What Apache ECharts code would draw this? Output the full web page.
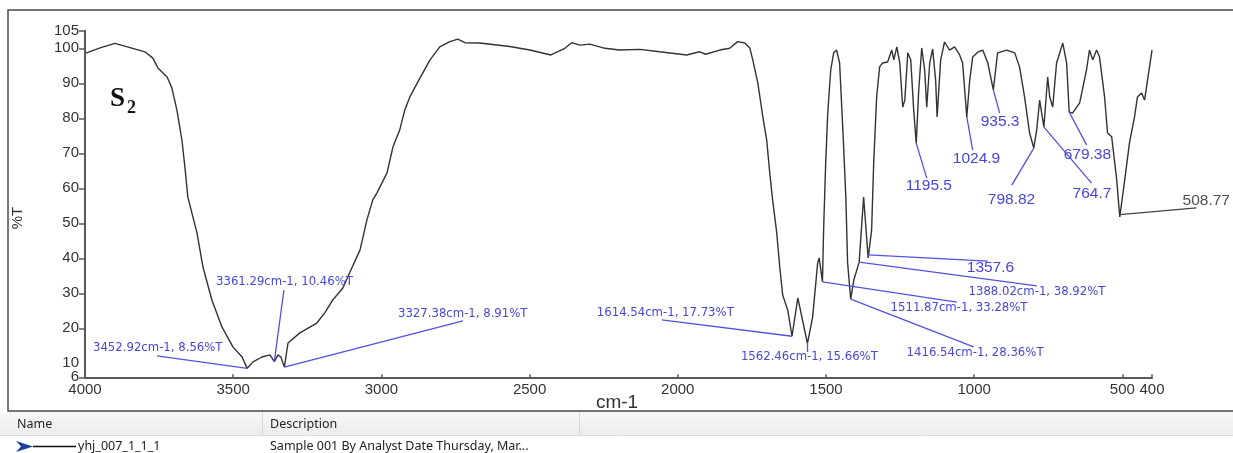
<!DOCTYPE html>
<html><head><meta charset="utf-8">
<script src="https://cdn.jsdelivr.net/npm/echarts@6/dist/echarts.min.js"></script>
<style>html,body{margin:0;padding:0;background:#fff;}#c{width:1233px;height:453px;}</style>
</head><body><div id="c"></div>
<script>
// ---- spectrum data (wavenumber cm-1, %T) ----
var wavenumbers = [3997,3949,3899,3848,3798,3771,3754,3723,3707,3690,3673,3663,3653,3622,3602,3572,3538,3501,3470,3452.92,3433,3403,3376,3361.29,3349,3339,3327.38,3315,3275,3218,3191,3164,3130,3106,3072,3049,3029,3015,2981,2961,2938,2921,2904,2870,2836,2803,2769,2742,2718,2668,2567,2499,2428,2381,2358,2330,2297,2246,2196,2128,2061,1970,1926,1906,1858,1825,1798,1774,1757,1747,1730,1713,1700,1690,1680,1666,1656,1646,1629,1614.54,1595,1562.46,1545,1528,1523,1511.87,1508,1501,1494,1484,1474,1464,1454,1443,1433,1427,1416.54,1406,1388.02,1373,1357.6,1346,1339,1329,1319,1309,1292,1278,1271,1261,1251,1241,1234,1224,1214,1204,1195.5,1187,1177,1167,1160,1150,1140,1130,1125,1113,1100,1083,1066,1049,1039,1024.9,1015,1005,988,971,954,935.3,921,890,863,847,830,813,798.82,789,779,764.7,752,745,735,722,701,688,679.38,668,644,621,611,600,587,577,560,550,536,519,508.77,492,476,459,449,435,425,415,400];
var transmittance = [98.6,100.1,101.4,100.2,99.0,97.2,94.4,91.8,88.7,82.4,73.8,66.1,57.5,47.2,37.5,28.1,20.4,14.7,11.8,8.56,10.4,11.8,12.4,10.46,12.4,11.8,8.91,15.8,18.7,21.5,24.4,28.1,31.5,36.1,42.4,50.9,56.7,58.7,64.4,71.8,76.7,82.4,86.1,91.5,96.7,100.4,101.9,102.6,101.6,101.5,100.5,99.5,98.1,100,101.6,100.9,101.2,100,99.5,99.7,99.0,98.1,99.0,98.3,99.5,100,101.9,101.5,100.1,96.7,90.1,80.4,73.8,64.7,56.7,47.2,37.5,29.5,25.2,17.73,28.7,15.66,23.2,38.7,40.1,33.28,48.1,67.2,81.5,93.8,98.7,99.5,95.8,76.7,57.5,38.7,28.36,33.8,38.92,57.5,40.1,48.1,67.2,86.1,94.7,95.8,96.1,99.5,96.7,100.4,95.8,83.2,85.2,98.7,96.7,82.4,72.9,88.1,100.1,93.8,83.2,95.8,99.8,90.9,80.4,96.7,101.8,99.5,100.4,98.1,95.8,80.4,90.9,97.5,98.9,99.5,95.8,88.1,98.7,99.5,98.7,94.7,86.1,75.8,71.5,76.7,85.2,77.5,91.8,86.1,83.2,95.8,101.5,95.8,81.8,81.5,84.4,93.8,99.5,96.7,99.5,97.5,86.1,75.8,74.7,62.4,51.8,62.4,73,80.4,86.1,87.2,85.2,90.9,99.5];

// ---- axis ticks ----
var xTicks = [4000,3500,3000,2500,2000,1500,1000,500,400];
var yTicks = [6,10,20,30,40,50,60,70,80,90,100,105];
var yTicksCrowded = [10];   // label drawn on a helper axis so it is not hidden next to "6"

// ---- peak annotations (data coordinates) ----
var peakTexts = ['3452.92cm-1, 8.56%T','3361.29cm-1, 10.46%T','3327.38cm-1, 8.91%T','1614.54cm-1, 17.73%T','1562.46cm-1, 15.66%T','1511.87cm-1, 33.28%T','1416.54cm-1, 28.36%T','1388.02cm-1, 38.92%T','1357.6','1195.5','1024.9','935.3','798.82','764.7','679.38','508.77'];
var peakKinds = ['s','s','s','s','s','s','s','s','b','b','b','b','b','b','b','g'];
var peakPoints = [[3452.92,8.56],[3361.29,10.46],[3327.38,8.91],[1614.54,17.73],[1562.46,15.66],[1511.87,33.28],[1416.54,28.36],[1388.02,38.92],[1357.6,41],[1195.5,72.9],[1024.9,80.4],[935.3,88.1],[798.82,71.5],[764.7,77.5],[679.38,81.8],[508.77,52.5]];
var leaderEnds = [[3757,12.1],[3329,30.9],[2725,22.1],[2054,22.4],[1562,13.2],[1059,27.5],[1002,14.7],[789,32.1],[954,39.2],[1160,62.9],[1005,70.9],[914,81.5],[873,60.9],[604,61.5],[621,72.4],[250,54.4]];
var labelAnchors = [[3973,14.4],[3558,33.2],[2944,24.1],[2273,24.4],[1787,11.8],[1282,25.8],[1228,12.9],[1019,30.4],[1025,37.2],[1231,60.7],[1072,68.4],[978,78.9],[954,56.7],[668,58.4],[698,69.5],[297,56.4]];

var lineData = wavenumbers.map(function(w,i){return [w, transmittance[i]];});
var annData = peakPoints.map(function(p,i){
  return [p[0],p[1],leaderEnds[i][0],leaderEnds[i][1],labelAnchors[i][0],labelAnchors[i][1]];
});
function plain(v){ return String(v); }

var chart = echarts.init(document.getElementById('c'), null, {renderer:'canvas'});
var blue = '#4646dc';
var labelStyle = {fontFamily:'Liberation Sans', fontSize:15, color:'#333'};
var option = {
  animation:false,
  backgroundColor:'#fff',
  grid:{left:85, right:81, top:30.8, bottom:75.7, containLabel:false},
  xAxis:{type:'value', min:400, max:4000, inverse:true,
    axisLine:{show:true, lineStyle:{color:'#5a5a5a', width:2}},
    axisTick:{show:true, inside:true, length:3, customValues:xTicks, lineStyle:{color:'#5a5a5a', width:1.5}},
    axisLabel:Object.assign({customValues:xTicks, formatter:plain, showMinLabel:true, showMaxLabel:true, margin:5}, labelStyle),
    splitLine:{show:false}},
  yAxis:[
    {type:'value', min:6, max:105, position:'left',
     axisLine:{show:true, lineStyle:{color:'#5a5a5a', width:2}},
     axisTick:{show:true, inside:false, length:6, customValues:yTicks, lineStyle:{color:'#5a5a5a', width:1.5}},
     axisLabel:Object.assign({customValues:yTicks, formatter:plain, showMinLabel:true, showMaxLabel:true, margin:6}, labelStyle),
     splitLine:{show:false}},
    {type:'value', min:6, max:105, position:'left', offset:0,
     axisLine:{show:false}, axisTick:{show:false},
     axisLabel:Object.assign({customValues:yTicksCrowded, formatter:plain, showMinLabel:true, showMaxLabel:true, margin:6}, labelStyle),
     splitLine:{show:false}}
  ],
  series:[
    {type:'line', data:lineData, symbol:'none', smooth:false, z:3,
     lineStyle:{color:'#333', width:1.4}},
    {type:'custom', data:annData, z:4, clip:false,
     renderItem:function(params, api){
       var i = params.dataIndex;
       var p = api.coord([api.value(0), api.value(1)]);
       var e = api.coord([api.value(2), api.value(3)]);
       var t = api.coord([api.value(4), api.value(5)]);
       var k = peakKinds[i];
       var col = k==='g' ? '#505050' : blue;
       var font = k==='s' ? '11.7px "DejaVu Sans"' : '15.5px "Liberation Sans"';
       return {type:'group', children:[
         {type:'line', shape:{x1:p[0],y1:p[1],x2:e[0],y2:e[1]}, style:{stroke: k==='g'?'#444':'#5252e0', lineWidth:1.3}},
         {type:'text', x:t[0], y:t[1], style:{text:peakTexts[i], fill:col, font:font, align:'left', verticalAlign:'middle'}}
       ]};
     }}
  ],
  graphic:[
    {type:'rect', shape:{x:8, y:10, width:1240, height:401}, style:{fill:null, stroke:'#4a4a4a', lineWidth:1.5}, z:1},
    {type:'rect', shape:{x:0, y:412, width:1233, height:23}, style:{fill:new echarts.graphic.LinearGradient(0,0,0,1,[{offset:0,color:'#f7f7f7'},{offset:1,color:'#ececec'}])}, z:1},
    {type:'line', shape:{x1:0,y1:435.5,x2:1233,y2:435.5}, style:{stroke:'#dcdcdc', lineWidth:1}, z:2},
    {type:'line', shape:{x1:262.5,y1:412,x2:262.5,y2:435}, style:{stroke:'#d8d8d8', lineWidth:1}, z:2},
    {type:'line', shape:{x1:579.5,y1:412,x2:579.5,y2:435}, style:{stroke:'#d8d8d8', lineWidth:1}, z:2},
    {type:'text', x:17, y:424, style:{text:'Name', font:'12.5px "Noto Sans"', fill:'#222', verticalAlign:'middle'}, z:3},
    {type:'text', x:270, y:424, style:{text:'Description', font:'12.5px "Noto Sans"', fill:'#222', verticalAlign:'middle'}, z:3},
    {type:'polygon', shape:{points:[[16,441],[33,446.5],[16,452],[21,446.5]]}, style:{fill:'#1f3f9f'}, z:3},
    {type:'line', shape:{x1:33,y1:446.5,x2:76,y2:446.5}, style:{stroke:'#111', lineWidth:1.5}, z:3},
    {type:'text', x:78, y:446, style:{text:'yhj_007_1_1_1', font:'12.5px "Noto Sans"', fill:'#222', verticalAlign:'middle'}, z:3},
    {type:'text', x:270, y:446, style:{text:'Sample 001 By Analyst Date Thursday, Mar...', font:'12.5px "Noto Sans"', fill:'#222', verticalAlign:'middle'}, z:3},
    {type:'text', x:617, y:403, style:{text:'cm-1', font:'19px "Liberation Sans"', fill:'#333', align:'center', verticalAlign:'middle'}, z:3},
    {type:'text', x:18, y:218, rotation:Math.PI/2, style:{text:'%T', font:'15px "Liberation Sans"', fill:'#333', align:'center', verticalAlign:'middle'}, z:3},
    {type:'text', x:110, y:99, style:{text:'S', font:'bold 27px "Liberation Serif"', fill:'#111', verticalAlign:'middle'}, z:3},
    {type:'text', x:127, y:108, style:{text:'2', font:'bold 18px "Liberation Serif"', fill:'#111', verticalAlign:'middle'}, z:3}
  ]
};
chart.setOption(option);
</script></body></html>
